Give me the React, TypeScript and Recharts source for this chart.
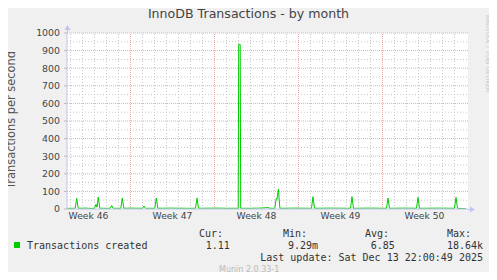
import React from "react";
import { LineChart, Line, XAxis, YAxis, CartesianGrid, ReferenceLine } from "recharts";

// time in days since Mon 10 Nov 2025 00:00
const sampleDays = [
  1.708, 2.392, 2.517, 2.642, 3.292, 3.792, 4.0, 4.125, 4.208, 4.317, 4.442,
  5.308, 5.433, 5.558, 6.192, 6.317, 6.442, 6.958, 8.0, 8.125, 8.25,
  9.025, 9.15, 9.275, 10.292, 11.542, 12.417, 12.542, 12.667, 14.042, 15.292,
  15.975, 16.017, 16.142, 16.183, 16.958, 17.792, 18.458, 18.625,
  19.025, 19.15, 19.208, 19.325, 19.45, 20.708, 22.083, 22.208, 22.333,
  23.625, 25.333, 25.458, 25.583, 26.958, 28.333, 28.458, 28.583, 29.875,
  30.833, 30.958, 31.083, 32.792, 34.0, 34.125, 34.25, 34.958,
];
const transactions = [
  4, 4, 61, 4, 5, 3, 4, 27, 10, 68, 4,
  4, 20, 4, 4, 62, 4, 5, 4, 17, 4,
  4, 62, 4, 5, 4, 4, 62, 4, 5, 4,
  4, 935, 935, 4, 4, 5, 8, 4,
  4, 60, 55, 113, 4, 5, 4, 70, 4,
  5, 4, 70, 4, 5, 4, 62, 4, 5,
  4, 66, 4, 5, 4, 66, 4, 1.11,
];
const weekTicks = [3.5, 10.5, 17.5, 24.5, 31.5];
const weekLabels = ["Week 46", "Week 47", "Week 48", "Week 49", "Week 50"];
const yTicks = [0, 100, 200, 300, 400, 500, 600, 700, 800, 900, 1000];
const yMinor = [50, 150, 250, 350, 450, 550, 650, 750, 850, 950];
const dayLines = [2, 3, 4, 5, 6, 8, 9, 10, 11, 12, 13, 15, 16, 17, 18, 19, 20, 22, 23, 24, 25, 26, 27, 29, 30, 31, 32, 33, 34];
const weekLines = [7, 14, 21, 28];

const data = sampleDays.map((d, i) => ({ day: d, value: transactions[i] }));

const MINOR = "#c8c8c8";
const MAJOR = "#f0a8a8";
const AXIS = "#c4c4f4";
const sans = "'DejaVu Sans', sans-serif";
const mono = "'DejaVu Sans Mono', monospace";

export default function App() {
  return (
    <div style={{ position: "relative", width: 497, height: 280, margin: -8, background: "#f0f0f0", overflow: "hidden" }}>
      <div style={{ position: "absolute", left: 0, top: 0 }}>
        <LineChart width={497} height={280} data={data} margin={{ top: 33, right: 29, bottom: 41, left: 27 }}>
          <CartesianGrid fill="#ffffff" horizontal={false} vertical={false} />
          {dayLines.map((d) => (
            <ReferenceLine key={"d" + d} x={d} stroke={MINOR} strokeDasharray="1 2" />
          ))}
          {yMinor.map((v) => (
            <ReferenceLine key={"m" + v} y={v} stroke={MINOR} strokeDasharray="1 2" />
          ))}
          {weekLines.map((d) => (
            <ReferenceLine key={"w" + d} x={d} stroke={MAJOR} strokeDasharray="1 1" />
          ))}
          {yTicks.filter((v) => v > 0).map((v) => (
            <ReferenceLine key={"y" + v} y={v} stroke={MAJOR} strokeDasharray="1 1" />
          ))}
          <XAxis
            dataKey="day"
            type="number"
            domain={[1.708, 35.125]}
            ticks={weekTicks}
            tickFormatter={(v: number) => weekLabels[weekTicks.indexOf(v)] ?? ""}
            tickLine={false}
            tickSize={0}
            tickMargin={3}
            axisLine={{ stroke: AXIS }}
            tick={{ fill: "#444", fontSize: 9.2, fontFamily: sans }}
            allowDataOverflow
            height={30}
          />
          <YAxis
            type="number"
            domain={[0, 1000]}
            ticks={yTicks}
            width={40}
            tickSize={3}
            tickMargin={4}
            tickLine={{ stroke: "#bbb" }}
            axisLine={{ stroke: AXIS }}
            tick={{ fill: "#444", fontSize: 9.4, fontFamily: sans }}
            allowDataOverflow
          />
          <Line
            type="linear"
            dataKey="value"
            stroke="#00cc00"
            strokeWidth={1}
            dot={false}
            activeDot={false}
            isAnimationActive={false}
          />
        </LineChart>
      </div>
      <svg width={497} height={280} style={{ position: "absolute", left: 0, top: 0, pointerEvents: "none" }}>
        <line x1={67.5} y1={33} x2={67.5} y2={28} stroke={AXIS} />
        <polygon points="64.5,30 70.5,30 67.5,25" fill={AXIS} />
        <line x1={468} y1={209.5} x2={471} y2={209.5} stroke={AXIS} />
        <polygon points="470,206.5 470,212.5 475,209.5" fill={AXIS} />
        <text x={248.5} y={18} textAnchor="middle" fontFamily={sans} fontSize={12.6} fill="#444">
          InnoDB Transactions - by month
        </text>
        <text
          x={10.5}
          y={120}
          textAnchor="middle"
          dominantBaseline="central"
          fontFamily={sans}
          fontSize={11.4}
          fill="#555"
          transform="rotate(-90, 10.5, 120)"
        >
          Transactions per second
        </text>
        <text
          x={488.5}
          y={15}
          dominantBaseline="central"
          fontFamily={sans}
          fontSize={6}
          fill="#c8c8c8"
          transform="rotate(90, 488.5, 15)"
        >
          RRDTOOL / TOBI OETIKER
        </text>
        <rect x={14} y={242} width={6} height={6} fill="#00cc00" />
        <g fontFamily={mono} fontSize={10} fill="#333">
          <text x={199} y={237.3}>Cur:</text>
          <text x={283} y={237.3}>Min:</text>
          <text x={365} y={237.3}>Avg:</text>
          <text x={447} y={237.3}>Max:</text>
          <text x={27} y={249}>Transactions created</text>
          <text x={205.7} y={249}>1.11</text>
          <text x={288} y={249}>9.29m</text>
          <text x={370.7} y={249}>6.85</text>
          <text x={447} y={249}>18.64k</text>
          <text x={483} y={260.5} textAnchor="end">Last update: Sat Dec 13 22:00:49 2025</text>
        </g>
        <text x={219} y={272.3} fontFamily={sans} fontSize={8} fill="#bbb">
          Munin 2.0.33-1
        </text>
      </svg>
    </div>
  );
}
